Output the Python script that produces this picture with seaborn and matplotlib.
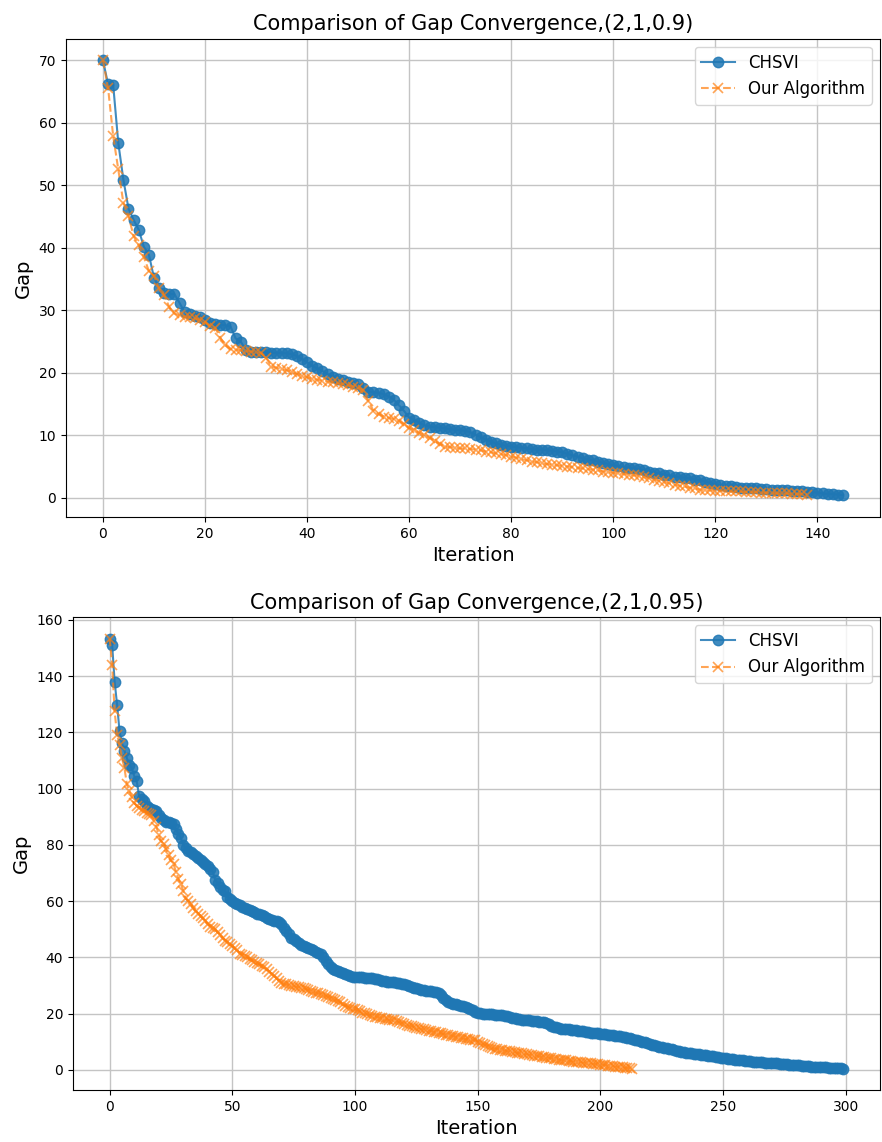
import matplotlib
matplotlib.use("Agg")
import matplotlib.pyplot as plt
import seaborn as sns

# --- data ---
title_top = "Comparison of Gap Convergence,(2,1,0.9)"
title_bottom = "Comparison of Gap Convergence,(2,1,0.95)"

chsvi_top = [
    70.0, 66.2, 66.1, 56.8, 50.9, 46.3, 44.5, 42.9, 40.2, 38.9,
    35.2, 33.6, 32.7, 32.6, 32.6, 31.2, 29.7, 29.4, 29.1, 28.9,
    28.4, 28.0, 27.8, 27.7, 27.6, 27.4, 25.5, 25.0, 23.6, 23.4,
    23.3, 23.3, 23.3, 23.2, 23.2, 23.2, 23.1, 23.0, 22.7, 22.2,
    21.7, 21.1, 20.7, 20.3, 19.8, 19.4, 19.0, 18.8, 18.6, 18.4,
    18.2, 17.6, 17.0, 16.9, 16.8, 16.6, 16.2, 15.7, 14.8, 13.9,
    12.8, 12.5, 12.0, 11.6, 11.4, 11.3, 11.2, 11.1, 11.0, 10.9,
    10.8, 10.7, 10.5, 10.1, 9.7, 9.3, 9.0, 8.7, 8.5, 8.3,
    8.2, 8.1, 8.0, 7.9, 7.8, 7.7, 7.7, 7.6, 7.5, 7.4,
    7.3, 7.0, 6.8, 6.6, 6.3, 6.1, 6.0, 5.8, 5.6, 5.4,
    5.2, 5.1, 4.9, 4.8, 4.7, 4.6, 4.4, 4.2, 4.0, 3.9,
    3.7, 3.6, 3.4, 3.3, 3.2, 3.1, 2.9, 2.8, 2.6, 2.4,
    2.2, 2.0, 1.9, 1.8, 1.7, 1.6, 1.6, 1.5, 1.5, 1.4,
    1.4, 1.3, 1.3, 1.2, 1.2, 1.1, 1.0, 1.0, 0.9, 0.9,
    0.8, 0.7, 0.6, 0.6, 0.5, 0.4,
]

ours_top = [
    70.0, 65.6, 57.9, 52.6, 47.2, 45.1, 41.9, 40.4, 38.5, 36.3,
    35.5, 33.5, 32.4, 30.5, 29.5, 29.2, 29.0, 28.9, 28.7, 28.5,
    28.1, 27.5, 27.2, 25.6, 24.4, 23.8, 23.7, 23.6, 23.5, 23.4,
    23.3, 23.2, 22.4, 21.0, 20.8, 20.6, 20.4, 20.2, 19.8, 19.5,
    19.3, 19.0, 18.9, 18.7, 18.6, 18.5, 18.3, 18.2, 18.0, 17.8,
    17.6, 17.2, 15.5, 13.9, 13.4, 13.0, 12.8, 12.6, 12.3, 11.8,
    11.2, 10.8, 10.4, 10.0, 9.6, 9.1, 8.6, 8.2, 8.1, 8.0,
    7.9, 7.9, 7.8, 7.7, 7.6, 7.4, 7.3, 7.1, 7.0, 6.8,
    6.6, 6.4, 6.2, 6.0, 5.8, 5.7, 5.5, 5.4, 5.3, 5.2,
    5.1, 5.0, 4.9, 4.8, 4.7, 4.6, 4.5, 4.4, 4.2, 4.1,
    4.0, 3.9, 3.8, 3.7, 3.6, 3.5, 3.3, 3.1, 2.9, 2.7,
    2.5, 2.3, 2.1, 1.9, 1.8, 1.6, 1.5, 1.3, 1.2, 1.2,
    1.1, 1.1, 1.1, 1.0, 1.0, 1.0, 0.9, 0.9, 0.9, 0.8,
    0.8, 0.8, 0.7, 0.7, 0.7, 0.6, 0.6, 0.6, 0.5,
]

chsvi_bottom = [
    153.4, 151.0, 138.1, 129.9, 120.5, 116.2, 113.5, 110.9, 108.5, 107.4,
    104.5, 102.7, 97.3, 96.5, 95.5, 94.0, 93.3, 92.8, 92.5, 92.0,
    90.5, 89.5, 88.8, 88.3, 88.0, 87.8, 87.4, 85.5, 84.0, 82.4,
    80.0, 78.9, 78.0, 77.4, 76.8, 76.0, 75.4, 74.8, 74.0, 73.2,
    72.5, 71.5, 70.5, 67.5, 66.5, 65.0, 64.0, 63.5, 61.5, 60.8,
    60.0, 59.5, 59.0, 58.5, 58.0, 57.5, 57.2, 56.8, 56.5, 56.0,
    55.6, 55.3, 55.0, 54.6, 54.2, 53.8, 53.4, 53.0, 52.8, 52.5,
    52.0, 50.5, 49.5, 48.4, 47.0, 46.5, 45.8, 45.2, 44.6, 44.0,
    43.6, 43.3, 42.9, 42.5, 42.0, 41.6, 41.2, 40.0, 38.8, 37.5,
    36.5, 36.0, 35.6, 35.2, 34.8, 34.4, 34.0, 33.7, 33.4, 33.2,
    33.1, 33.0, 32.9, 32.9, 32.8, 32.8, 32.7, 32.6, 32.4, 32.2,
    32.0, 31.8, 31.6, 31.4, 31.3, 31.2, 31.1, 31.0, 30.9, 30.7,
    30.4, 30.1, 29.8, 29.5, 29.2, 29.0, 28.8, 28.6, 28.4, 28.2,
    28.0, 27.9, 27.8, 27.6, 27.5, 26.5, 25.7, 24.8, 24.2, 23.9,
    23.6, 23.4, 23.1, 22.9, 22.6, 22.4, 22.2, 21.8, 21.3, 20.7,
    20.2, 20.1, 20.0, 20.0, 19.9, 19.9, 19.8, 19.7, 19.6, 19.5,
    19.4, 19.3, 19.1, 18.7, 18.5, 18.3, 18.2, 18.0, 17.9, 17.8,
    17.7, 17.6, 17.5, 17.4, 17.3, 17.2, 17.1, 17.0, 16.8, 16.2,
    15.8, 15.4, 15.1, 14.9, 14.7, 14.6, 14.5, 14.4, 14.3, 14.2,
    14.1, 13.9, 13.8, 13.7, 13.5, 13.4, 13.3, 13.2, 13.1, 13.0,
    12.9, 12.8, 12.7, 12.6, 12.5, 12.4, 12.2, 12.1, 12.0, 11.8,
    11.7, 11.5, 11.3, 11.0, 10.8, 10.5, 10.3, 10.0, 9.8, 9.5,
    9.3, 9.0, 8.8, 8.6, 8.3, 8.1, 7.9, 7.7, 7.5, 7.3,
    7.1, 6.9, 6.7, 6.5, 6.3, 6.2, 6.0, 5.9, 5.8, 5.7,
    5.6, 5.4, 5.3, 5.2, 5.0, 4.9, 4.8, 4.7, 4.5, 4.4,
    4.3, 4.1, 4.0, 3.9, 3.8, 3.7, 3.6, 3.5, 3.4, 3.3,
    3.2, 3.1, 3.0, 2.9, 2.8, 2.8, 2.7, 2.6, 2.5, 2.5,
    2.4, 2.3, 2.3, 2.2, 2.1, 2.0, 2.0, 1.9, 1.8, 1.7,
    1.7, 1.6, 1.5, 1.4, 1.4, 1.3, 1.2, 1.2, 1.1, 1.0,
    1.0, 0.9, 0.9, 0.8, 0.8, 0.7, 0.7, 0.6, 0.6, 0.5,
]

ours_bottom = [
    153.4, 144.0, 127.5, 119.2, 115.7, 110.9, 107.4, 101.5, 99.1, 97.0,
    95.0, 94.0, 93.0, 92.6, 92.0, 91.5, 91.0, 90.5, 88.5, 86.5,
    83.5, 81.4, 80.3, 78.5, 76.5, 74.5, 73.2, 70.5, 68.0, 66.0,
    63.7, 61.0, 60.1, 59.0, 57.6, 56.5, 55.5, 54.8, 54.0, 53.0,
    52.0, 51.0, 50.5, 50.0, 49.0, 48.0, 47.0, 46.0, 45.5, 44.9,
    44.0, 43.2, 42.5, 41.3, 41.0, 40.5, 40.0, 39.5, 39.0, 38.5,
    38.0, 37.5, 37.0, 36.5, 36.0, 35.0, 34.2, 33.5, 32.8, 31.8,
    30.9, 30.6, 30.4, 30.2, 30.0, 29.8, 29.6, 29.4, 29.2, 29.0,
    28.7, 28.4, 28.1, 27.8, 27.5, 27.2, 27.0, 26.7, 26.4, 26.0,
    25.6, 25.2, 24.9, 24.6, 24.0, 23.4, 22.9, 22.5, 22.1, 21.8,
    21.5, 21.2, 20.8, 20.4, 20.1, 19.8, 19.4, 19.2, 19.0, 18.8,
    18.6, 18.4, 18.2, 18.0, 17.8, 17.7, 17.6, 17.3, 17.0, 16.7,
    16.4, 16.1, 15.8, 15.5, 15.2, 15.0, 14.8, 14.6, 14.4, 14.2,
    14.0, 13.8, 13.6, 13.4, 13.2, 13.0, 12.8, 12.6, 12.4, 12.2,
    12.0, 11.8, 11.6, 11.4, 11.2, 11.0, 10.9, 10.8, 10.6, 10.5,
    10.1, 9.7, 9.3, 8.9, 8.5, 8.1, 7.8, 7.6, 7.4, 7.2,
    7.0, 6.9, 6.7, 6.6, 6.4, 6.3, 6.1, 6.0, 5.9, 5.7,
    5.6, 5.4, 5.3, 5.1, 5.0, 4.8, 4.7, 4.5, 4.4, 4.3,
    4.1, 4.0, 3.9, 3.7, 3.6, 3.5, 3.4, 3.3, 3.1, 3.0,
    2.9, 2.8, 2.7, 2.6, 2.5, 2.4, 2.3, 2.2, 2.1, 2.0,
    1.9, 1.8, 1.7, 1.5, 1.4, 1.3, 1.2, 1.1, 1.0, 0.9,
    0.8, 0.7, 0.6, 0.5,
]

blue = "#1f77b4"
orange = "#ff7f0e"


def draw_panel(ax, chsvi, ours, title):
    sns.lineplot(x=list(range(len(chsvi))), y=chsvi, ax=ax, color=blue,
                 marker="o", markersize=7.5, markeredgecolor=blue,
                 markeredgewidth=1, alpha=0.85, label="CHSVI")
    sns.lineplot(x=list(range(len(ours))), y=ours, ax=ax, color=orange,
                 marker="x", markersize=7, markeredgecolor=orange,
                 markeredgewidth=1.2, linestyle="--", alpha=0.7,
                 label="Our Algorithm")
    ax.set_title(title, fontsize=15)
    ax.set_xlabel("Iteration", fontsize=14)
    ax.set_ylabel("Gap", fontsize=14)
    ax.grid(True, color="#c4c4c4", linewidth=1)
    ax.set_axisbelow(True)
    ax.legend(loc="upper right", fontsize=12)


fig = plt.figure(figsize=(8.82, 11.42), dpi=100)
ax1 = fig.add_axes([0.0748, 0.5473, 0.9229, 0.4188])
ax2 = fig.add_axes([0.0828, 0.0455, 0.915, 0.4142])

draw_panel(ax1, chsvi_top, ours_top, title_top)
draw_panel(ax2, chsvi_bottom, ours_bottom, title_bottom)

fig.savefig("out.png", dpi=100)
